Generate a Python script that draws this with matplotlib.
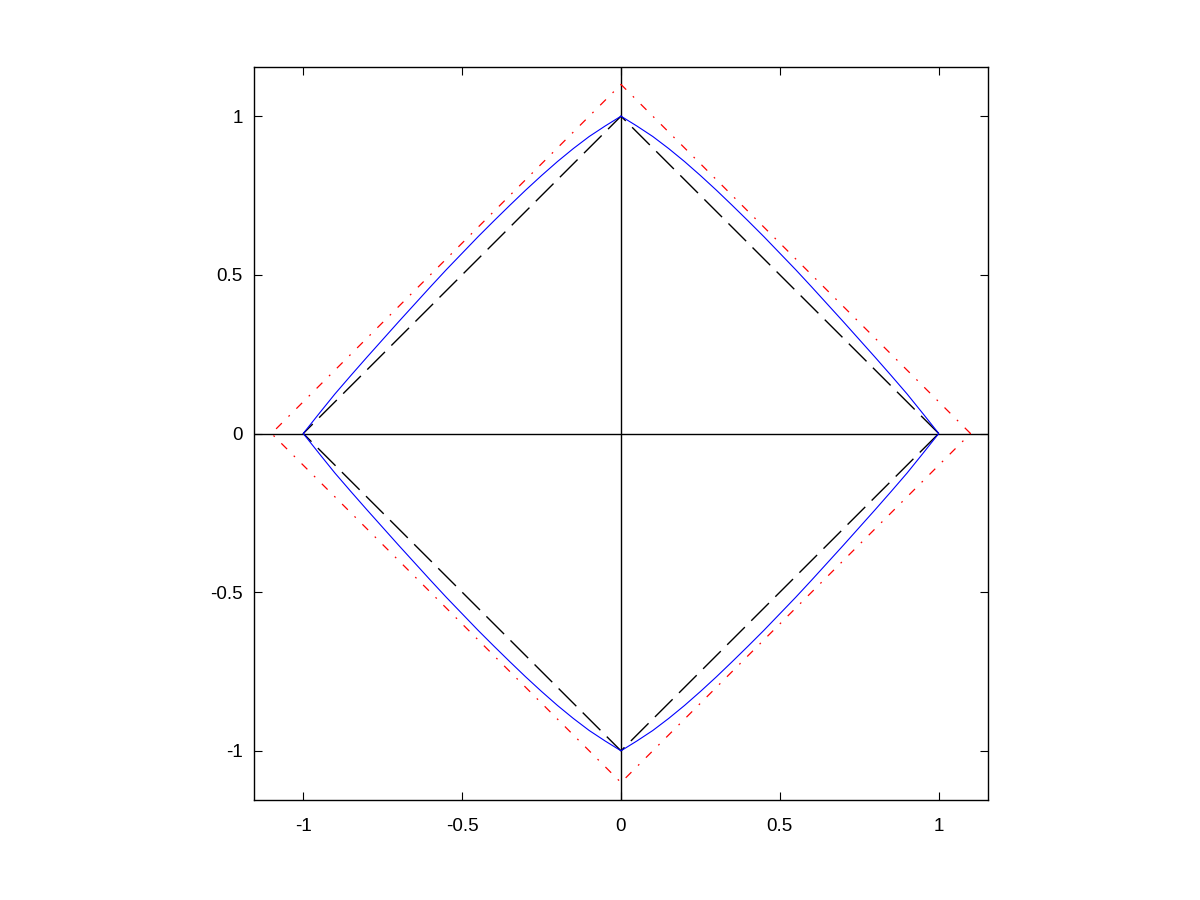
import matplotlib
matplotlib.use("Agg")
import matplotlib.pyplot as plt
import numpy as np

# Blue curve, first quadrant, mirrored into other quadrants
curve_x = [0.0, 0.05, 0.10, 0.15, 0.20, 0.25, 0.30, 0.35, 0.40, 0.45, 0.50,
           0.55, 0.60, 0.65, 0.70, 0.75, 0.80, 0.85, 0.90, 0.95, 1.0]
curve_y = [1.0, 0.969, 0.936, 0.898, 0.857, 0.813, 0.767, 0.719, 0.670, 0.620, 0.568,
           0.516, 0.462, 0.407, 0.352, 0.296, 0.240, 0.183, 0.125, 0.063, 0.0]

# Diamonds (vertices)
inner_x = [1, 0, -1, 0, 1]
inner_y = [0, 1, 0, -1, 0]
outer_x = [1.1, 0, -1.1, 0, 1.1]
outer_y = [0, 1.1, 0, -1.1, 0]

ticks = [-1, -0.5, 0, 0.5, 1]
tick_labels = ["-1", "-0.5", "0", "0.5", "1"]

plt.rcParams['font.family'] = ['Liberation Sans', 'DejaVu Sans']

fig = plt.figure(figsize=(12, 9), dpi=100)
ax = fig.add_axes([254/1200, 100/900, 734/1200, 733/900])

cx = np.array(curve_x)
cy = np.array(curve_y)
# closed curve assembled from the quadrant data by reflection
full_x = np.concatenate([cx, cx[::-1], -cx, -cx[::-1]])
full_y = np.concatenate([cy, -cy[::-1], -cy, cy[::-1]])

ax.axhline(0, color='black', lw=1.0, zorder=1)
ax.axvline(0, color='black', lw=1.0, zorder=1)

ax.plot(outer_x, outer_y, color='red', lw=0.9, dashes=(6.5, 7.5, 1.4, 7.5), zorder=2)
ax.plot(inner_x, inner_y, color='black', lw=1.0, dashes=(18, 6.5), zorder=2)
ax.plot(full_x, full_y, color='blue', lw=0.8, zorder=3)

ax.set_xlim(-1.155, 1.155)
ax.set_ylim(-1.155, 1.155)
ax.set_xticks(ticks)
ax.set_xticklabels(tick_labels)
ax.set_yticks(ticks)
ax.set_yticklabels(tick_labels)
ax.tick_params(direction='in', length=6, width=0.8, top=True, right=True,
               labelsize=13.5, colors='black')
ax.tick_params(axis='x', pad=13)
ax.tick_params(axis='y', pad=8)
for s in ax.spines.values():
    s.set_linewidth(1.0)
    s.set_color('black')

fig.savefig("out.png", dpi=100)
